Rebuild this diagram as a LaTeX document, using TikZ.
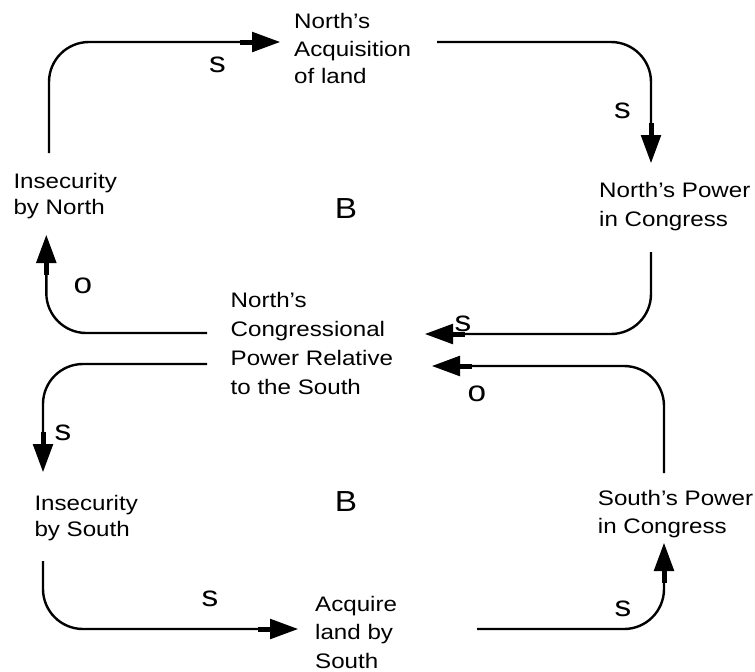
\documentclass[tikz,border=0pt]{standalone}
\usepackage{fontspec}
\setmainfont{Liberation Sans}[FakeStretch=1.15]
\usetikzlibrary{arrows.meta,calc}
\begin{document}
\begin{tikzpicture}[x=1pt,y=-1pt,
  lbl/.style={anchor=base west,inner sep=0pt,align=left,font=\fontsize{21}{28}\selectfont},
  sign/.style={anchor=base,inner sep=0pt,font=\fontsize{29}{32}\selectfont},
  conn/.style={line width=2.4pt,rounded corners=40pt,
    -{Rectangle[length=12pt,width=5pt]Triangle[length=28pt,width=20pt]}}]
\useasboundingbox (0,0) rectangle (755,672);
% variables (anchored at the baseline of their last line)
\node[lbl,font=\fontsize{21}{27.5}\selectfont] (acqN) at (294,83.8) {North’s\\Acquisition\\of land};
\node[lbl,font=\fontsize{21}{29}\selectfont] (powN) at (599,226.3) {North’s Power\\in Congress};
\node[lbl,font=\fontsize{21}{26}\selectfont] (insN) at (13.3,214.3) {Insecurity\\by North};
\node[lbl,font=\fontsize{21}{29}\selectfont] (rel) at (230.5,394.5) {North’s\\Congressional\\Power Relative\\to the South};
\node[lbl,font=\fontsize{21}{26.7}\selectfont] (insS) at (34.3,536.7) {Insecurity\\by South};
\node[lbl,font=\fontsize{21}{28.2}\selectfont] (acqS) at (315,668) {Acquire\\land by\\South};
\node[lbl,font=\fontsize{21}{28.3}\selectfont] (powS) at (597.7,533.3) {South’s Power\\in Congress};
% loop labels
\node[sign] (B1) at (346,218.3) {B};
\node[sign] (B2) at (346,511.7) {B};
% connectors
\draw[conn] ($(insN.base west)+(35.7,-61.3)$) |- ($(acqN.base west)+(-14,-41.8)$);
\draw[conn] ($(acqN.base west)+(143,-41.8)$) -| ($(powN.base west)+(52,-63.3)$);
\draw[conn] ($(powN.base west)+(52,25.7)$) |- ($(rel.base west)+(194.5,-60.5)$);
\draw[conn] ($(rel.base west)+(-23.5,-61.5)$) -| ($(insN.base west)+(33,20.7)$);
\draw[conn] ($(rel.base west)+(-23.5,-30.5)$) -| ($(insS.base west)+(8.7,-64.7)$);
\draw[conn] ($(insS.base west)+(8.7,24.3)$) |- ($(acqS.base west)+(-17,-39)$);
\draw[conn] ($(acqS.base west)+(162,-39)$) -| ($(powS.base west)+(66.3,9.7)$);
\draw[conn] ($(powS.base west)+(66.3,-60.3)$) |- ($(rel.base west)+(201.5,-28.5)$);
% polarity signs
\node[sign] (s1) at (217.5,72.7) {s};
\node[sign] (s2) at (622.5,118.3) {s};
\node[sign] (s3) at (463,331.7) {s};
\node[sign] (o1) at (83,293.3) {o};
\node[sign] (s4) at (63,440) {s};
\node[sign] (s5) at (210,606) {s};
\node[sign] (s6) at (623,616.7) {s};
\node[sign] (o2) at (477,401.7) {o};
\end{tikzpicture}
\end{document}
